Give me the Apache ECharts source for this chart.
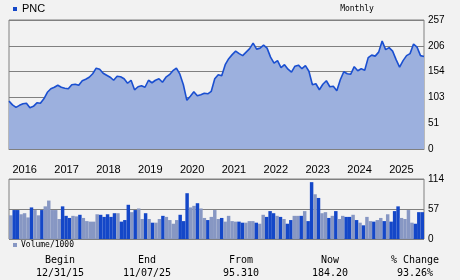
<!DOCTYPE html>
<html><head><meta charset="utf-8">
<script src="https://cdn.jsdelivr.net/npm/echarts@6/dist/echarts.min.js"></script>
<style>html,body{margin:0;padding:0;background:#f2f2f2}#c{width:460px;height:280px}</style>
</head><body><div id="c"></div>
<script>
// Monthly categories Dec 2015 .. Nov 2025
const months = [];
for (let y = 2015, m = 12; !(y === 2025 && m === 12); ) {
  months.push(y + '-' + String(m).padStart(2, '0'));
  m++; if (m > 12) { m = 1; y++; }
}
const closePrices = [
  95.31,88,83,87,90,91,82,85,92,91,
  100,113,120,123,127,123,121,120,128,129,
  127,136,139,143,150,161,159,151,147,143,
  137,145,144,140,131,137,118,124,126,123,
  137,132,137,140,133,143,148,156,161,149,
  128,97,105,114,106,108,111,110,115,140,
  148,146,168,180,188,195,190,186,193,200,
  211,199,201,207,201,183,171,176,162,168,
  159,153,165,167,160,166,155,128,130,118,
  129,136,124,125,116,138,154,150,149,164,
  156,160,157,182,187,185,193,215,198,202,
  195,178,163,176,186,190,209,203,186,184.2
];
const volumes = [
  45,55,55,47,49,41,60,55,45,55,
  62,73,55,55,38,62,44,40,44,43,
  46,40,34,33,33,47,46,42,47,42,
  49,49,33,36,65,51,55,58,38,49,
  38,31,31,38,44,42,36,29,36,46,
  34,87,60,63,68,58,40,36,42,55,
  38,40,33,44,34,33,33,31,31,34,
  34,31,29,46,42,53,49,44,42,38,
  29,36,44,44,44,53,34,108,85,78,
  49,51,40,44,53,38,44,42,42,46,
  36,31,26,42,34,33,36,40,34,47,
  33,53,62,40,38,55,31,29,51,51
];
const priceTicks = [0, 51, 103, 154, 206, 257];
const volumeTicks = [0, 57, 114];
const statHeads = ['Begin', 'End', 'From', 'Now', '% Change'];
const statValues = ['12/31/15', '11/07/25', '95.310', '184.20', '93.26%'];
const statX = [60, 147, 241, 330, 415];

const DARK = '#1447c8', LIGHT = '#8797c3', GRID = '#808080';
const sans = 'Liberation Sans, Arial, sans-serif';
const mono = 'DejaVu Sans Mono, monospace';

const chart = echarts.init(document.getElementById('c'), null, {renderer: 'canvas'});
const graphics = [
  {type: 'rect', shape: {x: 13, y: 7, width: 4, height: 4}, style: {fill: DARK}},
  {type: 'text', x: 22, y: 9, style: {text: 'PNC', font: '11px ' + sans, fill: '#000', textVerticalAlign: 'middle'}},
  {type: 'text', x: 357, y: 9, style: {text: 'Monthly', font: '8px ' + mono, fill: '#000', textAlign: 'center', textVerticalAlign: 'middle'}},
  {type: 'rect', shape: {x: 13, y: 243, width: 4, height: 4}, style: {fill: LIGHT}},
  {type: 'text', x: 21, y: 245, style: {text: 'Volume/1000', font: '8px ' + mono, fill: '#000', textVerticalAlign: 'middle'}}
];
statHeads.forEach((h, i) => {
  graphics.push({type: 'text', x: statX[i], y: 260, style: {text: h, font: '10px ' + mono, fill: '#000', textAlign: 'center', textVerticalAlign: 'middle'}});
  graphics.push({type: 'text', x: statX[i], y: 273, style: {text: statValues[i], font: '10px ' + mono, fill: '#000', textAlign: 'center', textVerticalAlign: 'middle'}});
});

chart.setOption({
  animation: false,
  backgroundColor: '#f2f2f2',
  grid: [
    {left: 9, top: 20, width: 415, height: 129, show: true, borderColor: GRID, borderWidth: 1, backgroundColor: 'transparent'},
    {left: 9, top: 179, width: 415, height: 60, show: true, borderColor: GRID, borderWidth: 1, backgroundColor: 'transparent'}
  ],
  xAxis: [
    {type: 'category', gridIndex: 0, data: months, boundaryGap: false,
     axisLine: {show: true, lineStyle: {color: GRID}}, axisTick: {show: false}, splitLine: {show: false},
     axisLabel: {interval: (i, v) => v.endsWith('-01'), formatter: v => v.slice(0, 4), align: 'left',
                 margin: 15, fontSize: 11, fontFamily: sans, color: '#000'}},
    {type: 'category', gridIndex: 1, data: months, boundaryGap: true,
     axisLine: {show: false}, axisTick: {show: false}, axisLabel: {show: false}, splitLine: {show: false}}
  ],
  yAxis: [
    {type: 'value', gridIndex: 0, position: 'right', min: 0, max: 257, interval: 257 / 5,
     axisLine: {show: false}, axisTick: {show: false},
     splitLine: {show: true, lineStyle: {color: GRID, width: 1}},
     axisLabel: {margin: 4, fontSize: 10, fontFamily: sans, color: '#000',
                 formatter: v => String(priceTicks.find(t => Math.abs(t - v) < 1))}},
    {type: 'value', gridIndex: 1, position: 'right', min: 0, max: 114, interval: 57,
     axisLine: {show: false}, axisTick: {show: false},
     splitLine: {show: true, lineStyle: {color: GRID, width: 1}},
     axisLabel: {margin: 4, fontSize: 10, fontFamily: sans, color: '#000',
                 formatter: v => String(volumeTicks.find(t => Math.abs(t - v) < 1))}}
  ],
  series: [
    {type: 'line', xAxisIndex: 0, yAxisIndex: 0, data: closePrices, symbol: 'none',
     lineStyle: {color: '#1a4fd0', width: 1.6}, areaStyle: {color: '#9cb0de', opacity: 1}},
    {type: 'bar', xAxisIndex: 1, yAxisIndex: 1, barCategoryGap: '0%',
     data: volumes.map((v, i) => ({value: v, itemStyle: {color: (i > 0 && closePrices[i] < closePrices[i - 1]) ? DARK : LIGHT}}))}
  ],
  graphic: graphics
});
</script></body></html>
